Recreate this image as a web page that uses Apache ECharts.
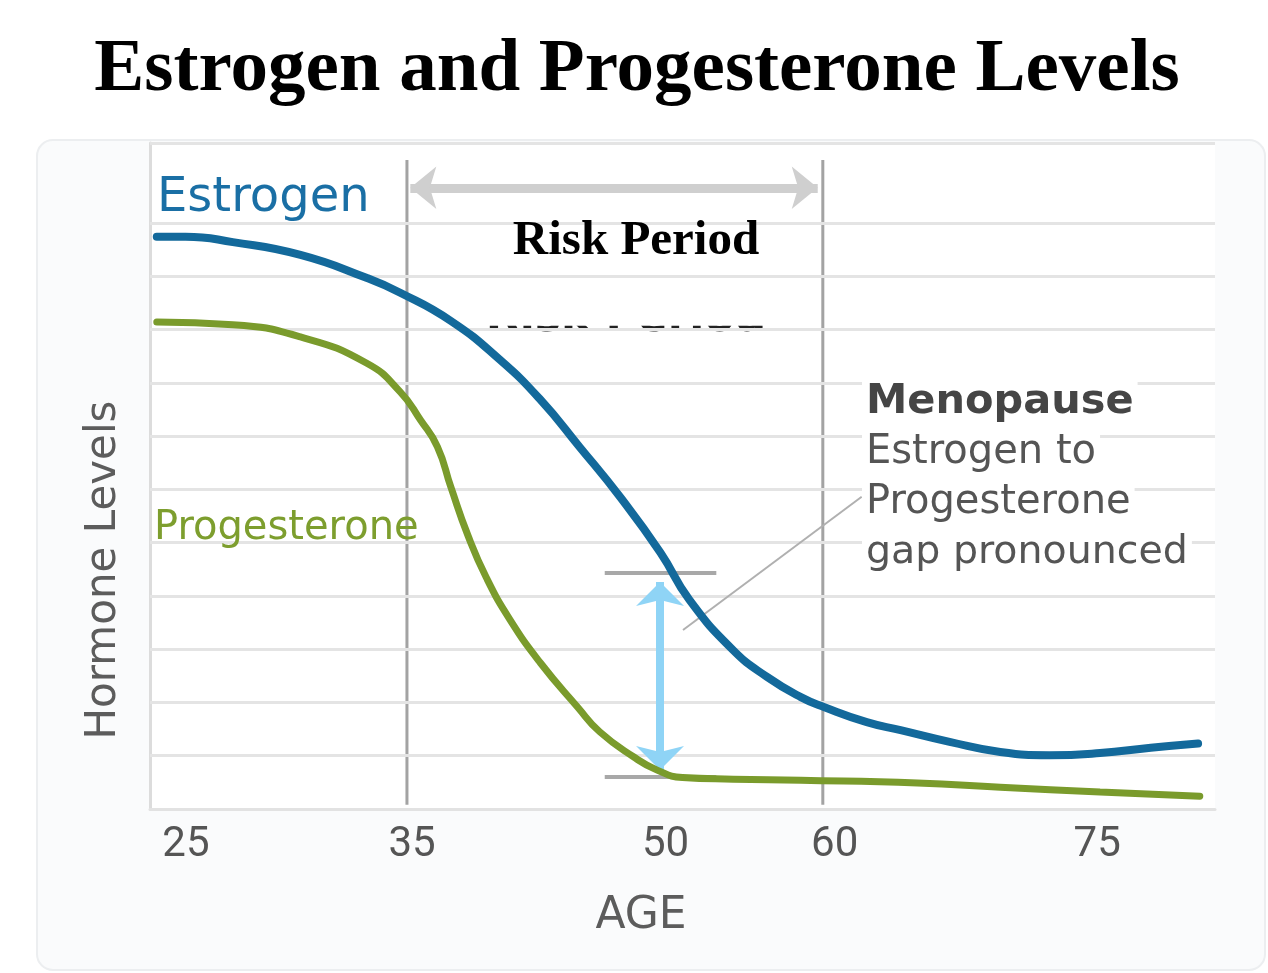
<!DOCTYPE html>
<html><head><meta charset="utf-8">
<script src="https://cdn.jsdelivr.net/npm/echarts@6/dist/echarts.min.js"></script>
<style>html,body{margin:0;padding:0;background:#fff}#c{width:1268px;height:973px}</style>
</head><body><div id="c"></div>
<script>
// ---- data ----
const titleText = 'Estrogen and Progesterone Levels';
const xTickValues = [25, 35, 50, 60, 75];
const estrogen = [[19.9,10.74],[21.6,10.74],[24.4,10.64],[28.4,10.40],[32.3,9.97],[34.3,9.69],[37.3,9.16],[40.2,8.43],[42.6,7.68],[44.9,6.80],[47.3,5.86],[49.7,4.81],[51.4,3.93],[54.0,2.98],[56.0,2.48],[58.0,2.10],[59.4,1.91],[61.9,1.63],[63.9,1.48],[66.8,1.26],[69.8,1.07],[72.7,1.01],[75.7,1.05],[78.7,1.15],[81.5,1.23]];
const progesterone = [[19.9,9.14],[24.4,9.09],[28.4,8.86],[32.3,8.37],[34.3,7.83],[35.5,7.30],[36.5,6.80],[37.3,6.04],[38.3,5.14],[39.4,4.34],[40.8,3.55],[42.6,2.74],[44.8,1.91],[46.1,1.45],[48.1,0.98],[49.5,0.73],[51.0,0.59],[54.0,0.56],[58.0,0.54],[64.9,0.49],[69.8,0.41],[75.7,0.32],[81.6,0.24]];
const gridLevels = [1,2,3,4,5,6,7,8,9,10,11];
const topLevel = 12.5;
const riskStartLine = [[34.7,0.08],[34.7,12.18]];
const riskEndLine = [[59.3,0.08],[59.3,12.18]];
const riskArrow = [[34.9,11.66],[59.0,11.66]];
const riskBox = [[38.8,9.07],[57.8,11.3]];
const gapBracketTop = [[46.4,4.43],[53.0,4.43]];
const gapBracketBottom = [[46.4,0.60],[53.0,0.60]];
const gapArrow = [[49.67,4.26],[49.67,0.73]];
const pointerLine = [[51.03,3.36],[61.6,5.86]];

const seg = p => [{coord:p[0]},{coord:p[1]}];
const chart = echarts.init(document.getElementById('c'));
const tickFont = 'Roboto';
const labelFont = 'DejaVu Sans';

function helper(name, z, color, width, pairs, symbol, symbolSize) {
  return {
    name, type:'line', data:[], z, silent:true,
    markLine: {
      silent:true, animation:false,
      symbol: symbol || 'none', symbolSize: symbolSize || 10,
      label:{show:false},
      lineStyle:{color, width, type:'solid', opacity:1},
      data: pairs.map(seg)
    }
  };
}

function txt(text, x, y, size, fill, opts) {
  return Object.assign({type:'text', z:10, x, y,
    style:Object.assign({text, fontFamily:labelFont, fontSize:size, fill, align:'left', verticalAlign:'middle'}, (opts && opts.style) || {})},
    (opts && opts.el) || {});
}

chart.setOption({
  animation:false,
  backgroundColor:'#ffffff',
  grid:{left:150, right:53, top:143, bottom:164},
  xAxis:{
    type:'value', min:19.5, max:82.5,
    axisLine:{show:true, lineStyle:{color:'#e2e2e2', width:3}},
    axisTick:{show:false},
    splitLine:{show:false},
    axisLabel:{
      customValues: xTickValues,
      margin: 15,
      color:'#555', fontFamily:tickFont, fontSize:42,
      formatter: v => v === 25 ? '{a|25}' : (v === 75 ? '{b|75}' : String(v)),
      rich:{
        a:{padding:[0,114,0,0], color:'#555', fontFamily:tickFont, fontSize:42},
        b:{padding:[0,0,0,18], color:'#555', fontFamily:tickFont, fontSize:42}
      }
    }
  },
  yAxis:{
    type:'value', min:0, max:topLevel,
    axisLine:{show:true, lineStyle:{color:'#dcdcdc', width:3}},
    axisTick:{show:false}, axisLabel:{show:false}, splitLine:{show:false}
  },
  series:[
    {
      name:'grid', type:'line', data:[], z:1, silent:true,
      markLine:{silent:true, animation:false, symbol:'none', label:{show:false},
        lineStyle:{color:'#e4e4e4', width:3, type:'solid'},
        data: gridLevels.concat([topLevel]).map(v => ({yAxis:v}))}
    },
    {
      name:'riskBox', type:'line', data:[], z:3, silent:true,
      markArea:{silent:true, animation:false, itemStyle:{color:'#ffffff', opacity:1},
        data:[seg(riskBox)]}
    },
    {name:'riskStart', type:'line', data:riskStartLine, z:4, silent:true, symbol:'none',
      lineStyle:{color:'#a3a3a3', width:3}},
    {name:'riskEnd', type:'line', data:riskEndLine, z:4, silent:true, symbol:'none',
      lineStyle:{color:'#a3a3a3', width:3}},
    helper('riskArrow', 4, '#cfcfcf', 9, [riskArrow], ['arrow','arrow'], [32, 26]),
    helper('bracket', 4, '#a8a8a8', 4, [gapBracketTop, gapBracketBottom]),
    {name:'Estrogen', type:'line', data:estrogen, z:5, smooth:0.5,
      symbol:'none', lineStyle:{color:'#13699b', width:8, cap:'round'}},
    {name:'Progesterone', type:'line', data:progesterone, z:5, smooth:0.5,
      symbol:'none', lineStyle:{color:'#7a9b2c', width:7, cap:'round'}},
    helper('gapArrow', 6, '#8fd4f6', 8, [gapArrow], ['arrow','arrow'], [36, 24]),
    helper('pointer', 7, '#b0b0b0', 2, [pointerLine])
  ],
  graphic:[
    {type:'rect', z:-10, shape:{x:37, y:140, width:1228, height:830, r:16},
      style:{fill:'#fafbfc', stroke:'#eceef0', lineWidth:2}},
    {type:'rect', z:-9, shape:{x:150, y:143, width:1065, height:666},
      style:{fill:'#ffffff'}},
    txt(titleText, 637, 71, 75, '#000', {style:{fontFamily:'Liberation Serif', fontWeight:'bold', align:'center'}}),
    txt('Risk Period', 626, 320, 44, '#222', {style:{fontWeight:'bold', align:'center'}, el:{z:-1}}),
    txt('Risk Period', 636, 241, 49, '#000', {style:{fontFamily:'Liberation Serif', fontWeight:'bold', align:'center'}, el:{z:20}}),
    txt('Estrogen', 157, 199, 48, '#1a6fa5'),
    txt('Progesterone', 154, 529, 40, '#7d9e2e'),
    txt('Hormone Levels', 104, 570, 42, '#5c5c5c', {style:{align:'center'}, el:{rotation:Math.PI/2}}),
    txt('AGE', 641, 917, 44, '#5c5c5c', {style:{align:'center'}}),
    txt('Menopause', 862, 402, 41.5, '#454545', {style:{fontWeight:'bold', backgroundColor:'#fff', padding:[0,4]}}),
    txt('Estrogen to', 862, 453, 40, '#555', {style:{backgroundColor:'#fff', padding:[0,4]}}),
    txt('Progesterone', 862, 503, 40, '#555', {style:{backgroundColor:'#fff', padding:[0,4]}}),
    txt('gap pronounced', 862, 553, 39.5, '#555', {style:{backgroundColor:'#fff', padding:[0,4]}})
  ]
});
</script>
</body></html>
